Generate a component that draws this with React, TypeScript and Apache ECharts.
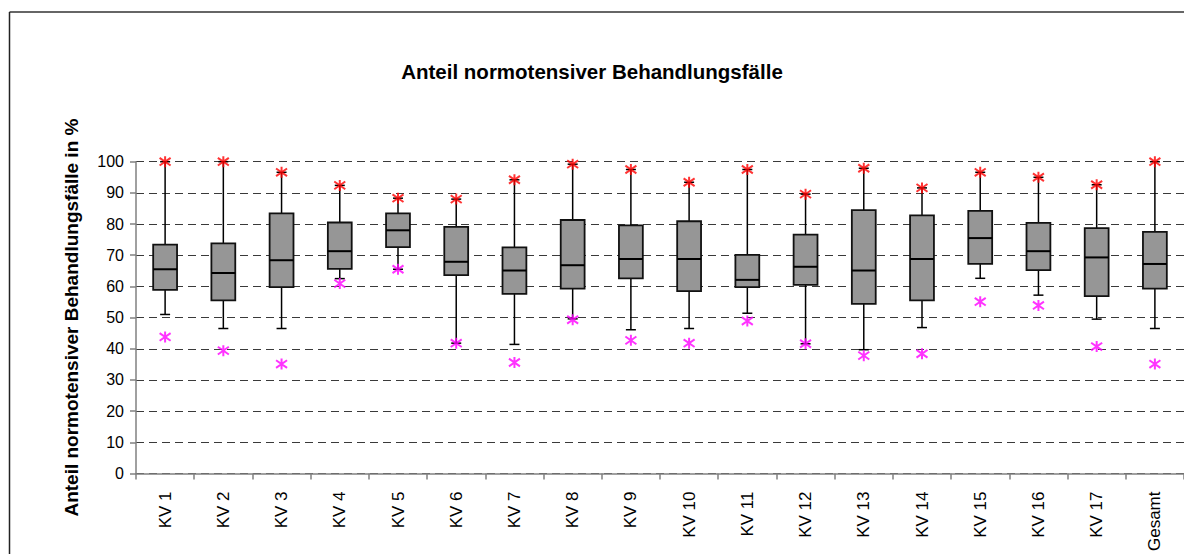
import React, { useEffect, useRef } from "react";
import * as echarts from "echarts";

const categories = ["KV 1", "KV 2", "KV 3", "KV 4", "KV 5", "KV 6", "KV 7", "KV 8", "KV 9", "KV 10", "KV 11", "KV 12", "KV 13", "KV 14", "KV 15", "KV 16", "KV 17", "Gesamt"];
const lowWhisker = [51.0, 46.5, 46.5, 62.5, 65.5, 41.8, 41.4, 49.6, 46.1, 46.5, 51.4, 41.6, 39.7, 46.8, 62.6, 57.2, 49.5, 46.5];
const q1 = [58.9, 55.5, 59.8, 65.6, 72.6, 63.6, 57.6, 59.3, 62.6, 58.5, 59.8, 60.5, 54.4, 55.5, 67.2, 65.2, 56.9, 59.3];
const median = [65.5, 64.3, 68.4, 71.3, 78.0, 67.9, 65.1, 66.8, 68.8, 68.8, 62.1, 66.3, 65.1, 68.8, 75.5, 71.3, 69.3, 67.2];
const q3 = [73.4, 73.8, 83.4, 80.5, 83.4, 79.1, 72.5, 81.3, 79.6, 80.9, 70.1, 76.6, 84.5, 82.8, 84.2, 80.4, 78.7, 77.5];
const maxVal = [100, 100, 96.6, 92.4, 88.3, 88.0, 94.2, 99.2, 97.5, 93.4, 97.5, 89.6, 97.9, 91.6, 96.6, 95.0, 92.6, 100];
const minVal = [43.8, 39.4, 35.1, 60.9, 65.5, 41.8, 35.6, 49.3, 42.7, 41.8, 48.9, 41.6, 37.8, 38.4, 55.1, 53.9, 40.7, 35.1];

const titleText = "Anteil normotensiver Behandlungsfälle";
const yAxisTitle = "Anteil normotensiver Behandlungsfälle in %";

const FONT = "'Liberation Sans', Arial, Helvetica, sans-serif";
const STAR = "path://M5,0L5,10M1,1.5L9,8.5M1,8.5L9,1.5";

export default function App() {
  const ref = useRef<HTMLDivElement>(null);
  useEffect(() => {
    if (!ref.current) return;
    const chart = echarts.init(ref.current, null, { renderer: "svg" });
    const boxData = categories.map((_, i) => [i, lowWhisker[i], q1[i], median[i], q3[i], maxVal[i]]);
    const option: any = {
      animation: false,
      backgroundColor: "#fff",
      title: {
        text: titleText,
        left: "center",
        top: 56,
        textStyle: { fontFamily: FONT, fontWeight: "bold", fontSize: 20.5, color: "#000" },
      },
      graphic: [
        {
          type: "line",
          shape: { x1: 9.5, y1: 12, x2: 1184, y2: 12 },
          style: { stroke: "#333", lineWidth: 1.5 },
          z: 100,
        },
        {
          type: "line",
          shape: { x1: 9.5, y1: 12, x2: 9.5, y2: 554 },
          style: { stroke: "#222", lineWidth: 1.5 },
          z: 100,
        },
      ],
      grid: { left: 136, top: 161.7, width: 1063, height: 314, containLabel: false },
      xAxis: {
        type: "category",
        data: categories,
        boundaryGap: true,
        axisLine: { lineStyle: { color: "#808080", width: 1.5 } },
        axisTick: { show: true, length: 6, interval: 0, lineStyle: { color: "#808080", width: 1.5 } },
        axisLabel: { rotate: 90, margin: 18, interval: 0, color: "#000", fontSize: 17, fontFamily: FONT },
        splitLine: { show: false },
      },
      yAxis: {
        type: "value",
        min: 0,
        max: 100,
        interval: 10,
        axisLine: { show: true, lineStyle: { color: "#808080", width: 1.5 } },
        axisTick: { show: true, length: 6, lineStyle: { color: "#808080", width: 1.5 } },
        axisLabel: { margin: 12, color: "#000", fontSize: 16, fontFamily: FONT },
        splitLine: { show: true, lineStyle: { type: [8, 5], color: "#3a3a3a", width: 1 } },
        name: yAxisTitle,
        nameLocation: "middle",
        nameRotate: 90,
        nameGap: 55,
        nameTextStyle: { fontFamily: FONT, fontWeight: "bold", fontSize: 19, color: "#000" },
      },
      series: [
        {
          type: "custom",
          data: boxData,
          encode: { x: 0, y: [1, 2, 3, 4, 5] },
          z: 2,
          renderItem: (params: any, api: any) => {
            const idx = api.value(0);
            const pLow = api.coord([idx, api.value(1)]);
            const pQ1 = api.coord([idx, api.value(2)]);
            const pMed = api.coord([idx, api.value(3)]);
            const pQ3 = api.coord([idx, api.value(4)]);
            const pMax = api.coord([idx, api.value(5)]);
            const cx = pMed[0];
            const bw = api.size([1, 0])[0] * 0.41;
            const cw = 5;
            const lineStyle = { stroke: "#000", lineWidth: 1.5 };
            return {
              type: "group",
              children: [
                { type: "line", shape: { x1: cx, y1: pLow[1], x2: cx, y2: pQ1[1] }, style: lineStyle },
                { type: "line", shape: { x1: cx, y1: pQ3[1], x2: cx, y2: pMax[1] }, style: lineStyle },
                { type: "line", shape: { x1: cx - cw, y1: pLow[1], x2: cx + cw, y2: pLow[1] }, style: lineStyle },
                { type: "line", shape: { x1: cx - cw, y1: pMax[1], x2: cx + cw, y2: pMax[1] }, style: lineStyle },
                {
                  type: "rect",
                  shape: { x: cx - bw / 2, y: pQ3[1], width: bw, height: pQ1[1] - pQ3[1] },
                  style: { fill: "#969696", stroke: "#111", lineWidth: 1.8 },
                },
                { type: "line", shape: { x1: cx - bw / 2, y1: pMed[1], x2: cx + bw / 2, y2: pMed[1] }, style: { stroke: "#000", lineWidth: 2 } },
              ],
            };
          },
        },
        {
          type: "scatter",
          data: categories.map((_, i) => [i, maxVal[i]]),
          symbol: STAR,
          symbolSize: 11,
          z: 5,
          itemStyle: { color: "rgba(0,0,0,0)", borderColor: "#ff0000", borderWidth: 2 },
        },
        {
          type: "scatter",
          data: categories.map((_, i) => [i, minVal[i]]),
          symbol: STAR,
          symbolSize: 11,
          z: 5,
          itemStyle: { color: "rgba(0,0,0,0)", borderColor: "#ff00ff", borderWidth: 2 },
        },
      ],
    };
    chart.setOption(option);
    return () => chart.dispose();
  }, []);
  return <div ref={ref} style={{ position: "fixed", left: 0, top: 0, width: 1184, height: 554, overflow: "hidden" }} />;
}
